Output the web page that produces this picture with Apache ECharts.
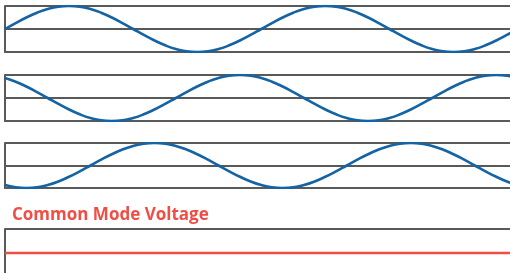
<!DOCTYPE html>
<html>
<head>
<meta charset="utf-8">
<script src="https://cdn.jsdelivr.net/npm/echarts@6/dist/echarts.min.js"></script>
<style>
html,body{margin:0;padding:0;background:#fff;}
#chart{width:510px;height:273px;}
</style>
</head>
<body>
<div id="chart"></div>
<script>
// Phase angle (degrees) sampled every 15 degrees
var angles = [0,15,30,45,60,75,90,105,120,135,150,165,180,195,210,225,240,255,270,285,300,315,330,345,
              360,375,390,405,420,435,450,465,480,495,510,525,540,555,570,585,600,615,630,645,660,675,690,705,720];
// Phase 1 (top band)
var phase1 = [0,.26,.5,.71,.87,.97,1,.97,.87,.71,.5,.26,0,-.26,-.5,-.71,-.87,-.97,-1,-.97,-.87,-.71,-.5,-.26,
              0,.26,.5,.71,.87,.97,1,.97,.87,.71,.5,.26,0,-.26,-.5,-.71,-.87,-.97,-1,-.97,-.87,-.71,-.5,-.26,0];
// Phase 2 (middle band)
var phase2 = [.87,.71,.5,.26,0,-.26,-.5,-.71,-.87,-.97,-1,-.97,-.87,-.71,-.5,-.26,0,.26,.5,.71,.87,.97,1,.97,
              .87,.71,.5,.26,0,-.26,-.5,-.71,-.87,-.97,-1,-.97,-.87,-.71,-.5,-.26,0,.26,.5,.71,.87,.97,1,.97,.87];
// Phase 3 (bottom band)
var phase3 = [-.87,-.97,-1,-.97,-.87,-.71,-.5,-.26,0,.26,.5,.71,.87,.97,1,.97,.87,.71,.5,.26,0,-.26,-.5,-.71,
              -.87,-.97,-1,-.97,-.87,-.71,-.5,-.26,0,.26,.5,.71,.87,.97,1,.97,.87,.71,.5,.26,0,-.26,-.5,-.71,-.87];
// Common mode voltage (flat)
var cmAngles = [0, 720];
var commonMode = [0, 0];
var titleText = 'Common Mode Voltage';

var BLUE = '#1464a5', RED = '#f04e45';
function g(top, h){ return {left:5, right:-4, top:top, height:h, outerBoundsMode:'none', containLabel:false}; }
var grids = [g(6,46), g(75,46), g(143,45), g(229,48)];
function xAx(i){
  return {gridIndex:i, type:'value', min:0, max:715,
    axisLine:{show:i<3, onZero:false, lineStyle:{color:'#5a5a5a', width:2}},
    axisTick:{show:false}, axisLabel:{show:false}, splitLine:{show:false}};
}
function yAx(i){
  return {gridIndex:i, type:'value', min:-1, max:1, interval:1,
    axisLine:{show:true, lineStyle:{color:'#5a5a5a', width:2}},
    axisTick:{show:false}, axisLabel:{show:false},
    splitLine:{show:true, lineStyle:{color: '#222', width:1.5}}};
}
function pairs(xs, ys){ return xs.map(function(x,k){return [x, ys[k]];}); }
function wave(i, xs, ys, color){
  return {type:'line', xAxisIndex:i, yAxisIndex:i, data:pairs(xs, ys), smooth:0.5,
    showSymbol:false, silent:true, animation:false,
    lineStyle:{color:color, width:2.6}};
}
var chart = echarts.init(document.getElementById('chart'), null, {renderer:'canvas'});
chart.setOption({
  animation:false,
  backgroundColor:'#fff',
  title:{text:titleText, left:12, top:207, padding:0,
    textStyle:{color:RED, fontSize:17, fontWeight:'bold', fontFamily:'Open Sans'}},
  grid:grids,
  xAxis:[xAx(0),xAx(1),xAx(2),xAx(3)],
  yAxis:[yAx(0),yAx(1),yAx(2),yAx(3)],
  series:[
    wave(0, angles, phase1, BLUE),
    wave(1, angles, phase2, BLUE),
    wave(2, angles, phase3, BLUE),
    wave(3, cmAngles, commonMode, RED)
  ]
});
</script>
</body>
</html>
